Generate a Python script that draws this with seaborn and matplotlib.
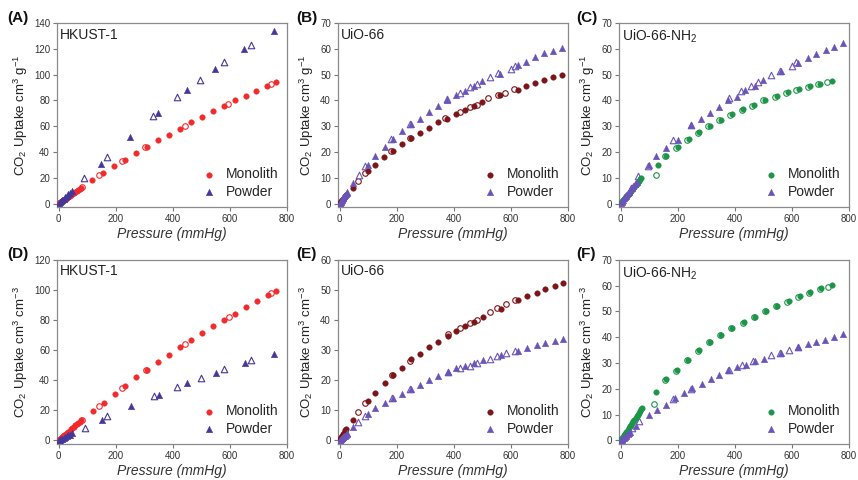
import matplotlib
matplotlib.use("Agg")
import matplotlib.pyplot as plt
import seaborn as sns

# ---- data (pressure in mmHg, uptake) ----
# (A) HKUST-1, cm3 g-1
A_mono_ads_p = [1, 3, 6, 9, 12, 16, 20, 24, 28, 33, 38, 43, 48, 53, 58, 63, 68, 73, 78,
                116, 155, 193, 233, 271, 308, 347, 386, 424, 463, 502, 541, 579, 617, 655, 693, 730, 762]
A_mono_ads_q = [0.3, 0.6, 1.1, 1.5, 2.0, 2.6, 3.2, 3.8, 4.4, 5.1, 5.9, 6.6, 7.4, 8.1, 8.9, 9.6, 10.4, 11.1, 11.9,
                18, 24, 29, 34, 39.5, 44, 49, 53.5, 58, 63, 67.5, 71.5, 76, 80, 83.5, 87.5, 91, 94]
A_mono_des_p = [80, 140, 222, 303, 442, 595, 744]
A_mono_des_q = [12.6, 22, 33, 43.7, 60, 77, 92.5]
A_pow_ads_p = [1, 4, 8, 12, 17, 22, 28, 34, 40, 47, 149, 250, 349, 450, 549, 651, 753]
A_pow_ads_q = [0.3, 1.0, 1.9, 2.8, 3.8, 4.8, 6.0, 7.2, 8.4, 9.8, 31, 52, 70, 88, 104.5, 120, 133.6]
A_pow_des_p = [90, 169, 331, 413, 497, 579, 674]
A_pow_des_q = [20, 36, 68, 82.5, 96, 110, 123]

# (B) UiO-66, cm3 g-1
B_mono_ads_p = [1, 2, 4, 6, 8, 10, 12, 14, 17, 20, 23,
                47, 99, 124, 155, 186, 217, 249, 282, 313, 345, 376, 408, 438, 471, 500, 561, 624, 654, 685, 716, 746, 778]
B_mono_ads_q = [0.2, 0.4, 0.7, 1.0, 1.3, 1.6, 1.9, 2.2, 2.6, 3.0, 3.4,
                6.2, 12.5, 15.1, 18.1, 20.4, 23.2, 25.5, 27.5, 29.5, 31.5, 33.0, 34.9, 36.4, 37.9, 39.3, 42.0, 44.2, 45.5, 46.7, 47.9, 48.9, 50.0]
B_mono_des_p = [65, 90, 180, 245, 370, 420, 455, 480, 520, 555, 580, 610]
B_mono_des_q = [8.8, 11.8, 20.5, 25.4, 33.3, 35.5, 37.4, 38.4, 40.8, 42.0, 43.0, 44.3]
B_pow_ads_p = [1, 2, 3, 5, 7, 9, 11, 13, 15, 18, 21, 24, 27,
               48, 99, 125, 157, 186, 218, 249, 282, 313, 345, 376, 408, 438, 471, 500, 561, 624, 654, 685, 716, 746, 778]
B_pow_ads_q = [0.2, 0.4, 0.6, 1.0, 1.4, 1.7, 2.1, 2.4, 2.8, 3.2, 3.7, 4.1, 4.5,
               7.9, 15.0, 18.3, 21.9, 25.1, 28.0, 30.8, 33.0, 35.6, 37.9, 40.3, 42.0, 43.8, 45.7, 47.4, 50.3, 53.6, 55.0, 56.7, 58.2, 59.3, 60.5]
B_pow_des_p = [69, 90, 180, 245, 375, 420, 455, 480, 525, 555, 600, 615]
B_pow_des_q = [11, 14.5, 25, 30.8, 40.5, 43, 45.3, 46.5, 49, 50.5, 52, 53.5]

# (C) UiO-66-NH2, cm3 g-1
C_mono_ads_p = [2, 5, 8, 11, 14, 17, 20, 24, 28, 32, 36, 40, 44, 48, 52, 56, 60, 64, 68, 72,
                131, 160, 199, 238, 273, 314, 352, 391, 429, 468, 507, 548, 585, 625, 663, 700, 739]
C_mono_ads_q = [0.4, 0.9, 1.3, 1.7, 2.1, 2.5, 2.9, 3.4, 3.9, 4.4, 5.0, 5.5, 6.0, 6.6, 7.1, 7.7, 8.2, 8.8, 9.4, 10.0,
                15.0, 18.5, 21.8, 25.0, 27.6, 30.2, 32.6, 34.7, 36.6, 38.3, 40.3, 41.7, 43.3, 44.3, 45.5, 46.5, 47.6]
C_mono_des_p = [124, 155, 193, 232, 270, 306, 345, 384, 424, 460, 498, 540, 578, 615, 655, 692, 722]
C_mono_des_q = [11.1, 18.3, 21.7, 24.8, 27.4, 30.0, 32.3, 34.5, 36.4, 38.0, 40.0, 41.4, 43.0, 44.0, 45.2, 46.2, 47.3]
C_pow_ads_p = [1, 3, 5, 8, 11, 14, 17, 20, 24, 28, 33, 38, 44, 50, 56,
               100, 123, 158, 199, 246, 282, 314, 343, 375, 407, 437, 470, 497, 562, 623, 656, 686, 718, 748, 780]
C_pow_ads_q = [0.2, 0.6, 1.0, 1.5, 2.0, 2.5, 3.0, 3.5, 4.1, 4.7, 5.4, 6.1, 6.9, 7.6, 8.3,
               14.9, 18.3, 21.4, 24.6, 30.3, 32.9, 35.0, 37.5, 40.0, 41.5, 44.0, 45.5, 48.0, 51.4, 54.6, 56.3, 58.0, 59.6, 60.9, 62.2]
C_pow_des_p = [35, 62, 95, 183, 245, 380, 420, 455, 480, 525, 558, 600, 615]
C_pow_des_q = [6.0, 10.7, 14.5, 24.5, 30.3, 40.8, 43.5, 45.7, 47.0, 50.0, 51.5, 53.5, 55.0]

# (D) HKUST-1, cm3 cm-3
D_mono_ads_p = [1, 3, 6, 9, 12, 16, 20, 24, 28, 33, 38, 43, 48, 53, 58, 63, 68, 73, 78,
                119, 158, 196, 233, 272, 309, 349, 387, 426, 463, 502, 540, 579, 618, 657, 694, 734, 762]
D_mono_ads_q = [0.3, 0.6, 1.1, 1.6, 2.1, 2.8, 3.4, 4.1, 4.8, 5.6, 6.5, 7.3, 8.2, 9.0, 9.9, 10.7, 11.6, 12.4, 13.3,
                19.6, 25.1, 30.8, 36.1, 41.8, 46.9, 52.0, 57.0, 61.9, 66.5, 71.1, 75.7, 79.9, 84.3, 88.5, 92.7, 96.4, 99.5]
D_mono_des_p = [80, 141, 223, 306, 441, 596, 745]
D_mono_des_q = [13.6, 22.9, 35, 46.5, 63.9, 81.9, 97.8]
D_pow_ads_p = [1, 4, 8, 12, 17, 22, 28, 34, 40, 47, 152, 252, 351, 450, 552, 652, 755]
D_pow_ads_q = [0.1, 0.4, 0.8, 1.2, 1.7, 2.2, 2.8, 3.3, 3.9, 4.6, 13.7, 22.7, 30.4, 37.9, 45.1, 51.5, 57.2]
D_pow_des_p = [93, 170, 333, 414, 498, 579, 674]
D_pow_des_q = [8.4, 15.9, 29.3, 35.7, 41.4, 47.1, 53.3]

# (E) UiO-66, cm3 cm-3
E_mono_ads_p = [1, 2, 4, 6, 8, 10, 12, 14, 17, 20, 23,
                47, 100, 124, 157, 187, 219, 251, 282, 314, 346, 378, 409, 440, 472, 502, 564, 626, 658, 690, 721, 753, 782]
E_mono_ads_q = [0.3, 0.5, 0.9, 1.2, 1.5, 1.9, 2.2, 2.5, 2.9, 3.4, 3.8,
                6.9, 13.1, 15.9, 18.9, 21.7, 24.2, 27.0, 28.7, 30.9, 32.8, 34.6, 36.3, 38.0, 39.3, 41.0, 43.8, 46.6, 47.9, 49.1, 50.2, 51.3, 52.4]
E_mono_des_p = [65, 90, 183, 245, 381, 420, 457, 482, 526, 552, 583, 615]
E_mono_des_q = [9.4, 12.5, 21.7, 26.5, 35.2, 37.3, 39.1, 40.1, 42.5, 44.0, 45.3, 46.6]
E_pow_ads_p = [1, 2, 3, 5, 7, 9, 11, 13, 15, 18, 21, 24, 27,
               47, 100, 124, 157, 187, 219, 251, 282, 314, 346, 378, 409, 440, 472, 502, 564, 626, 658, 690, 721, 753, 782]
E_pow_ads_q = [0.1, 0.2, 0.3, 0.5, 0.7, 0.9, 1.0, 1.2, 1.4, 1.6, 1.9, 2.1, 2.4,
               4.5, 8.6, 10.6, 12.3, 14.1, 15.5, 17.2, 18.5, 20.0, 21.5, 22.6, 24.0, 24.8, 25.6, 26.6, 28.3, 29.8, 30.8, 31.6, 32.4, 33.1, 33.7]
E_pow_des_p = [65, 90, 183, 245, 381, 420, 457, 481, 527, 552, 583, 615]
E_pow_des_q = [6.1, 8.0, 14.2, 17.2, 22.8, 23.9, 24.8, 25.7, 27.0, 27.9, 29.0, 29.8]

# (F) UiO-66-NH2, cm3 cm-3
F_mono_ads_p = [2, 5, 8, 11, 14, 17, 20, 24, 28, 32, 36, 40, 44, 48, 52, 56, 60, 64, 68, 72, 76,
                122, 159, 196, 236, 275, 314, 353, 391, 431, 470, 509, 548, 588, 627, 664, 703, 742]
F_mono_ads_q = [0.4, 0.9, 1.4, 1.9, 2.4, 2.9, 3.4, 4.1, 4.7, 5.4, 6.0, 6.7, 7.4, 8.0, 8.7, 9.3, 10.0, 10.7, 11.3, 12.0, 12.7,
                18.8, 23.6, 27.3, 31.3, 34.9, 38.2, 40.8, 43.7, 45.8, 48.0, 50.2, 52.1, 53.9, 55.9, 57.4, 58.9, 60.1]
F_mono_des_p = [118, 155, 192, 232, 271, 310, 349, 387, 427, 466, 505, 543, 583, 622, 659, 697, 727]
F_mono_des_q = [14.0, 23.3, 27.0, 31.1, 34.7, 38.1, 40.7, 43.5, 45.6, 47.8, 50.0, 51.9, 53.7, 55.7, 57.2, 58.7, 59.6]
F_pow_ads_p = [1, 3, 5, 8, 11, 14, 17, 20, 24, 28, 33,
               54, 98, 127, 159, 190, 221, 251, 284, 315, 346, 376, 408, 438, 471, 501, 562, 623, 655, 686, 717, 747, 780]
F_pow_ads_q = [0.1, 0.3, 0.5, 0.8, 1.1, 1.4, 1.7, 2.0, 2.4, 2.8, 3.3,
               5.5, 9.8, 11.6, 13.9, 16.4, 18.3, 20.4, 21.9, 23.8, 25.5, 27.1, 28.4, 29.3, 30.6, 31.7, 34.0, 36.2, 37.2, 38.2, 39.1, 40.2, 41.1]
F_pow_des_p = [40, 65, 183, 247, 381, 425, 464, 526, 558, 588, 621]
F_pow_des_q = [4.8, 7.5, 16.0, 20.1, 27.3, 29.3, 30.7, 33.0, 34.0, 34.9, 36.2]

letters = ["(A)", "(B)", "(C)", "(D)", "(E)", "(F)"]
materials = ["HKUST-1", "UiO-66", "UiO-66-NH$_2$", "HKUST-1", "UiO-66", "UiO-66-NH$_2$"]
ymax = [140, 70, 70, 120, 60, 70]
ystep = [20, 10, 10, 20, 10, 10]
ylabels = ["CO$_2$ Uptake cm$^3$ g$^{-1}$"] * 3 + ["CO$_2$ Uptake cm$^3$ cm$^{-3}$"] * 3

mono_colors = ["#f22a2c", "#7d1418", "#1c9548", "#f22a2c", "#7d1418", "#1c9548"]
pow_colors = ["#45379a", "#6a54b8", "#6a54b8", "#45379a", "#6a54b8", "#6a54b8"]

panels = [
    (A_mono_ads_p, A_mono_ads_q, A_mono_des_p, A_mono_des_q, A_pow_ads_p, A_pow_ads_q, A_pow_des_p, A_pow_des_q),
    (B_mono_ads_p, B_mono_ads_q, B_mono_des_p, B_mono_des_q, B_pow_ads_p, B_pow_ads_q, B_pow_des_p, B_pow_des_q),
    (C_mono_ads_p, C_mono_ads_q, C_mono_des_p, C_mono_des_q, C_pow_ads_p, C_pow_ads_q, C_pow_des_p, C_pow_des_q),
    (D_mono_ads_p, D_mono_ads_q, D_mono_des_p, D_mono_des_q, D_pow_ads_p, D_pow_ads_q, D_pow_des_p, D_pow_des_q),
    (E_mono_ads_p, E_mono_ads_q, E_mono_des_p, E_mono_des_q, E_pow_ads_p, E_pow_ads_q, E_pow_des_p, E_pow_des_q),
    (F_mono_ads_p, F_mono_ads_q, F_mono_des_p, F_mono_des_q, F_pow_ads_p, F_pow_ads_q, F_pow_des_p, F_pow_des_q),
]

sns.set_theme(style="ticks")
plt.rcParams['font.family'] = ['Liberation Sans', 'DejaVu Sans']
plt.rcParams['mathtext.default'] = 'regular'

fig, axes = plt.subplots(2, 3, figsize=(8.58, 4.8), dpi=100)
plt.subplots_adjust(left=0.0664, right=0.9895, top=0.952, bottom=0.075, wspace=0.222, hspace=0.285)

label_x = [-0.217, -0.183, -0.187, -0.217, -0.18, -0.187]

for i, ax in enumerate(axes.flat):
    mp, mq, mdp, mdq, pp, pq, pdp, pdq = panels[i]
    mc = mono_colors[i]
    pc = pow_colors[i]
    sns.scatterplot(x=mp, y=mq, ax=ax, marker='o', s=16, color=mc, edgecolor=mc, linewidth=0.3, label="Monolith", zorder=3)
    sns.scatterplot(x=mdp, y=mdq, ax=ax, marker='o', s=16, color=mc, facecolor='white', edgecolor=mc, linewidth=0.8, zorder=2)
    sns.scatterplot(x=pp, y=pq, ax=ax, marker='^', s=22, color=pc, edgecolor=pc, linewidth=0.3, label="Powder", zorder=3)
    sns.scatterplot(x=pdp, y=pdq, ax=ax, marker='^', s=22, color=pc, facecolor='white', edgecolor=pc, linewidth=0.8, zorder=2)

    ax.set_xlim(-6, 800)
    ax.set_ylim(-0.02 * ymax[i], ymax[i])
    ax.set_xticks(range(0, 801, 200))
    ax.set_yticks(range(0, ymax[i] + 1, ystep[i]))
    ax.tick_params(direction='out', length=3, width=0.8, color='#777777', labelsize=7, labelcolor='#333333', pad=2)
    for sp in ax.spines.values():
        sp.set_visible(True)
        sp.set_color('#8a8a8a')
        sp.set_linewidth(0.9)

    ax.set_xlabel("Pressure (mmHg)", fontsize=10, style='italic', color='#333333', labelpad=2)
    ax.set_ylabel(ylabels[i], fontsize=9.5, color='#222222', labelpad=3)

    ax.text(0.012, 0.975, materials[i], transform=ax.transAxes, fontsize=10, va='top', ha='left', color='#222222')
    ax.text(label_x[i], 1.03, letters[i], transform=ax.transAxes, fontsize=11, fontweight='bold', va='center', ha='left', color='#111111')

    ax.legend(loc='lower right', frameon=False, fontsize=10, handletextpad=0.6, labelspacing=0.25,
              borderaxespad=0.2, handlelength=1.2, markerscale=1.0)

fig.savefig("out.png", dpi=100)
